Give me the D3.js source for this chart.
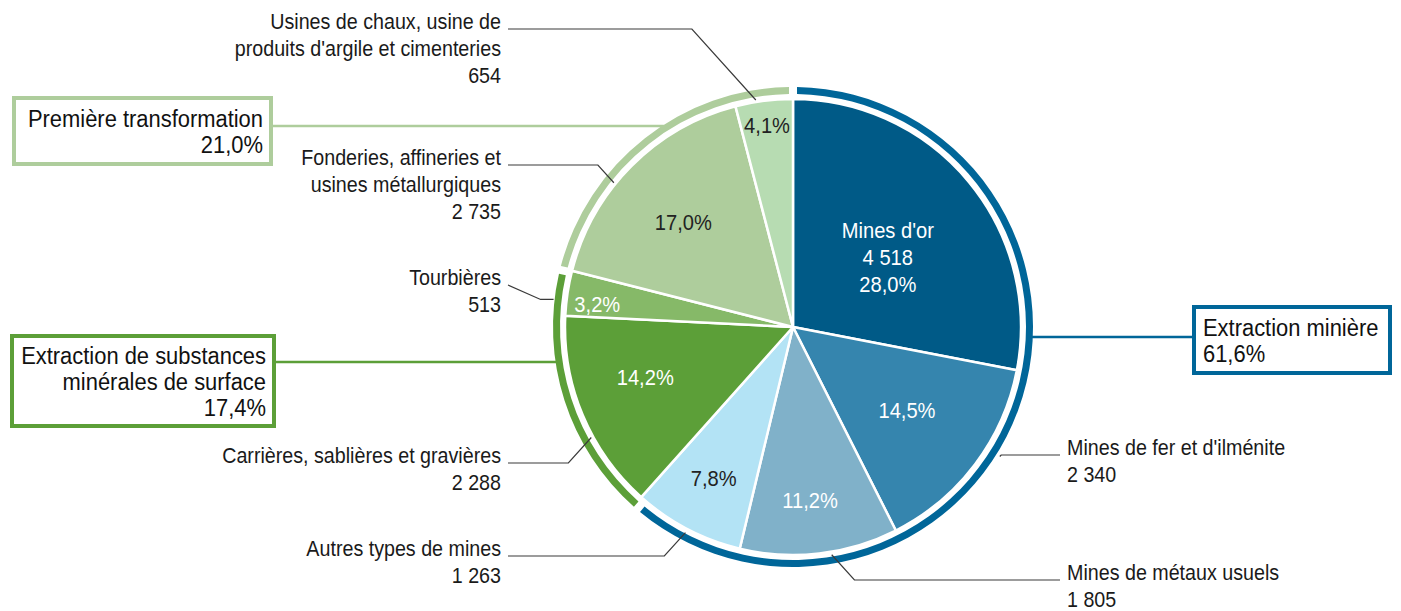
<!DOCTYPE html>
<html>
<head>
<meta charset="utf-8">
<script src="https://cdn.jsdelivr.net/npm/d3@7"></script>
<style>
  body { margin: 0; background: #fff; }
  svg text { font-family: "Liberation Sans", Arial, sans-serif; }
</style>
</head>
<body>
<script>
// data, clockwise from 12 o'clock
var categories = ["Mines d'or", "Mines de fer et d'ilménite", "Mines de métaux usuels", "Autres types de mines",
                  "Carrières, sablières et gravières", "Tourbières",
                  "Fonderies, affineries et\nusines métallurgiques", "Usines de chaux, usine de\nproduits d'argile et cimenteries"]
var values = [4518, 2340, 1805, 1263, 2288, 513, 2735, 654]
var groupOf = [0, 0, 0, 0, 1, 1, 2, 2]
var groups = ["Extraction minière", "Extraction de substances\nminérales de surface", "Première transformation"]

var sliceColors = ["#005a87", "#3585ae", "#80b1c9", "#b3e3f5", "#5c9f38", "#86b968", "#aecd9c", "#b7dcb2"]
var groupColors = ["#006699", "#5c9f38", "#aecd9c"]
var pctInk = ["#fff", "#fff", "#fff", "#222", "#fff", "#fff", "#222", "#222"]

var W = 1401, H = 611
var cx = 793, cy = 327, R = 228, ringIn = 233, ringOut = 240
var narrow = 0.895   // condensed look

var fr = d3.formatLocale({decimal: ",", thousands: " ", grouping: [3], currency: ["", " $"]})
var fmtN = fr.format(",d")
var fmtP = v => fr.format(".1f")(v) + "%"

var total = d3.sum(values)
var groupTotals = groups.map((g, i) => d3.sum(values.filter((v, j) => groupOf[j] == i)))

var svg = d3.select("body").append("svg").attr("width", W).attr("height", H)
var g = svg.append("g").attr("transform", "translate(" + cx + "," + cy + ")")

// multi-line text block, horizontally squeezed around its anchor x
function textBlock(x, y0, lines, step, anchor, size, fill) {
  var t = svg.append("g").attr("transform", "translate(" + x + ",0) scale(" + narrow + ",1)")
    .append("text").attr("text-anchor", anchor).attr("fill", fill).style("font-size", size + "px")
  lines.forEach((s, k) => {
    t.append("tspan").attr("x", 0).attr("y", y0 + k * step).attr("dy", "0.35em").text(s)
  })
}

var pie = d3.pie().sort(null).value(d => d)
var arcs = pie(values)
var arc = d3.arc().innerRadius(0).outerRadius(R)

g.selectAll(".slice")
  .data(arcs)
  .enter().append("path")
  .attr("class", "slice")
  .attr("d", arc)
  .attr("fill", (d, i) => sliceColors[i])
  .attr("stroke", "#fff")
  .attr("stroke-width", 2.5)
  .attr("stroke-linejoin", "round")

// outer ring per group
var ringArcs = d3.pie().sort(null).value(d => d).padAngle(0.024)(groupTotals)
var ring = d3.arc().innerRadius(ringIn).outerRadius(ringOut)
g.selectAll(".ring")
  .data(ringArcs)
  .enter().append("path")
  .attr("class", "ring")
  .attr("d", ring)
  .attr("fill", (d, i) => groupColors[i])

function polar(a, r) { return [cx + r * Math.sin(a), cy - r * Math.cos(a)] }
var mid = d => (d.startAngle + d.endAngle) / 2

// percentage labels inside the slices (radius + small angle nudge)
var pctLayout = [{r: 118, da: 3}, {r: 141, da: -1}, {r: 174, da: 1}, {r: 171, da: 0},
                 {r: 156, da: 4}, {r: 197, da: -2}, {r: 152, da: -1}, {r: 204, da: 0}]
arcs.forEach((d, i) => {
  var p = polar(mid(d) + pctLayout[i].da * Math.PI / 180, pctLayout[i].r)
  var lines = i == 0 ? [categories[0], fmtN(values[0]), fmtP(values[0] / total * 100)] : [fmtP(values[i] / total * 100)]
  textBlock(p[0], p[1] - (lines.length - 1) / 2 * 27, lines, 27, "middle", 22.5, pctInk[i])
})

// outside labels with leader lines
var labLayout = [
  null,
  {side: "right", ty: 447, da: -5, r: 244},
  {side: "right", ty: 572, da: -3, r: 231},
  {side: "left", ty: 548, da: 0, r: 232},
  {side: "left", ty: 455, da: -6, r: 230},
  {side: "left", ty: 277, da: -2, r: 241, diagFirst: true},
  {side: "left", ty: 157, da: -6, r: 230},
  {side: "left", ty: 21, da: -2, r: 230}
]
var line = d3.line()
arcs.forEach((d, i) => {
  var L = labLayout[i]
  if (!L) return
  var P = polar(mid(d) + L.da * Math.PI / 180, L.r)
  var left = L.side == "left"
  var tx = left ? 501 : 1067
  var sx = left ? 508 : 1060
  var ly = L.ty + 8
  var pts
  if (L.diagFirst) {
    pts = [[sx, ly], [P[0] - 13, P[1]], P]
  } else {
    var dy = Math.abs(P[1] - ly) * 0.9
    pts = [[sx, ly], [P[0] + (left ? -dy : dy), ly], P]
  }
  svg.append("path").attr("d", line(pts)).attr("fill", "none").attr("stroke", "#3a3a3a").attr("stroke-width", 1.2)
  var lines = categories[i].split("\n").concat([fmtN(values[i])])
  textBlock(tx, L.ty, lines, 27, left ? "end" : "start", 22, "#1a1a1a")
})

// group boxes
var boxLayout = [
  {x: 1192, y: 305, w: 200, h: 70, ly: 337, anchor: "start"},
  {x: 10, y: 334, w: 266, h: 94, ly: 362, anchor: "end"},
  {x: 12, y: 96, w: 261, h: 70, ly: 126, anchor: "end"}
]
groups.forEach((name, i) => {
  var B = boxLayout[i]
  var right = B.anchor == "start"
  var dy = B.ly - cy
  var ex = cx + (right ? 1 : -1) * Math.sqrt(ringOut * ringOut - dy * dy)
  svg.append("line")
    .attr("x1", right ? ex - 2 : B.x + B.w).attr("x2", right ? B.x : ex + 2)
    .attr("y1", B.ly).attr("y2", B.ly)
    .attr("stroke", groupColors[i]).attr("stroke-width", 2.5)
  svg.append("rect")
    .attr("x", B.x + 2).attr("y", B.y + 2).attr("width", B.w - 4).attr("height", B.h - 4)
    .attr("fill", "#fff").attr("stroke", groupColors[i]).attr("stroke-width", 4)
  var lines = name.split("\n").concat([fmtP(groupTotals[i] / total * 100)])
  var tx = right ? B.x + 11 : B.x + B.w - 10
  textBlock(tx, B.y + B.h / 2 - (lines.length - 1) * 13, lines, 26, B.anchor, 24.5, "#111")
})
</script>
</body>
</html>
